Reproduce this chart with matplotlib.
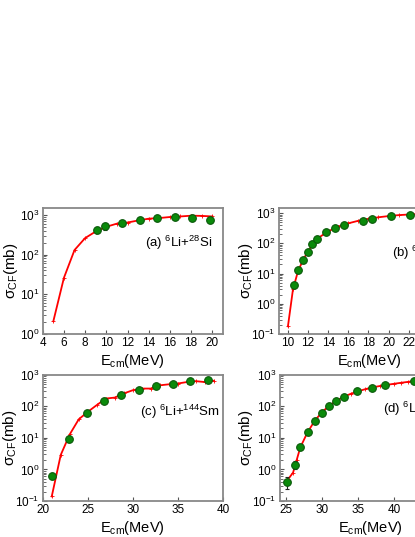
import numpy as np
import matplotlib.pyplot as plt

plt.rcParams['font.family'] = ['Liberation Sans', 'DejaVu Sans']
plt.rcParams['mathtext.fontset'] = 'custom'
plt.rcParams['mathtext.rm'] = 'Liberation Sans'
plt.rcParams['mathtext.it'] = 'Liberation Sans:italic'
plt.rcParams['mathtext.bf'] = 'Liberation Sans:bold'

# (a) 6Li+28Si
a_curve_e = [5, 6, 7, 8, 9, 10, 11, 12, 13, 14, 15, 16, 17, 18, 19, 20]
a_curve_s = [2.1, 26, 130, 260, 380, 500, 600, 640, 720, 800, 830, 880, 910, 950, 940, 910]
a_exp_e = [9.1, 9.9, 11.5, 13.2, 14.8, 16.5, 18.1, 19.8]
a_exp_s = [420, 520, 640, 740, 830, 870, 830, 760]
a_exp_err = [80, 110, 120, 130, 130, 140, 150, 130]

# (b) 6Li+59Co
b_curve_e = [10, 10.5, 11, 11.5, 12, 12.5, 13, 14, 15, 16, 17, 18, 19, 20, 21, 22, 23, 24]
b_curve_s = [0.18, 3.0, 12, 28, 55, 95, 150, 250, 360, 460, 560, 650, 730, 800, 860, 900, 940, 960]
b_exp_e = [10.6, 11.0, 11.5, 12.0, 12.4, 12.9, 13.8, 14.7, 15.6, 17.5, 18.4, 20.2, 22.1]
b_exp_s = [4.3, 13, 28, 53, 93, 136, 238, 334, 407, 541, 631, 776, 878]
b_exp_err = [0.6, 2.5, 5, 8, 12, 18, 30, 40, 45, 60, 65, 80, 90]

# (c) 6Li+144Sm
c_curve_e = [21, 22, 23, 24, 25, 26, 27, 28, 29, 30, 31, 32, 33, 34, 35, 36, 37, 38, 39]
c_curve_s = [0.14, 2.9, 13, 39, 67, 110, 177, 190, 257, 325, 367, 367, 465, 500, 530, 590, 630, 590, 650]
c_exp_e = [21.0, 22.9, 24.9, 26.8, 28.7, 30.7, 32.6, 34.5, 36.4, 38.4]
c_exp_s = [0.62, 9.2, 60, 146, 237, 341, 434, 501, 623, 686]
c_exp_err = [0.1, 1.5, 8, 18, 25, 35, 40, 45, 55, 60]

# (d) 6Li+209Bi
d_curve_e = [25.1, 26, 26.5, 27, 28, 29, 30, 31, 32, 33, 34, 35, 36, 37, 38, 39, 40, 41, 42, 43, 44]
d_curve_s = [0.42, 0.8, 2.0, 5.0, 15, 35, 65, 105, 150, 200, 250, 300, 350, 400, 440, 480, 520, 560, 600, 640, 680]
d_exp_e = [25.1, 26.2, 27.0, 28.0, 29.0, 30.0, 31.0, 31.9, 33.0, 34.9, 36.9, 38.8, 42.8]
d_exp_s = [0.41, 1.4, 5.0, 15, 34, 62, 104, 149, 198, 300, 394, 490, 624]
d_exp_err = [0.17, 0.4, 0.8, 2, 4, 6, 10, 14, 18, 25, 30, 40, 50]

panels = [
    dict(pos=[0.103, 0.378, 0.434, 0.235], ce=a_curve_e, cs=a_curve_s, ee=a_exp_e, es=a_exp_s, err=a_exp_err,
         xlim=(4, 21), ylim=(1, 1500), xt=np.arange(4, 21, 2), label=r'(a) $^{6}$Li+$^{28}$Si',
         tp=(0.57, 0.72), ylx=-0.125),
    dict(pos=[0.672, 0.378, 0.434, 0.235], ce=b_curve_e, cs=b_curve_s, ee=b_exp_e, es=b_exp_s, err=b_exp_err,
         xlim=(9.1, 27), ylim=(0.1, 1500), xt=np.arange(10, 27, 2), label=r'(b) $^{6}$Li+$^{59}$Co',
         tp=(0.63, 0.64), ylx=-0.135),
    dict(pos=[0.103, 0.067, 0.434, 0.235], ce=c_curve_e, cs=c_curve_s, ee=c_exp_e, es=c_exp_s, err=c_exp_err,
         xlim=(20, 40), ylim=(0.1, 1000), xt=np.arange(20, 41, 5), label=r'(c) $^{6}$Li+$^{144}$Sm',
         tp=(0.54, 0.71), ylx=-0.132),
    dict(pos=[0.675, 0.067, 0.434, 0.235], ce=d_curve_e, cs=d_curve_s, ee=d_exp_e, es=d_exp_s, err=d_exp_err,
         xlim=(24.2, 49.2), ylim=(0.1, 1000), xt=np.arange(25, 50, 5), label=r'(d) $^{6}$Li+$^{209}$Bi',
         tp=(0.57, 0.73), ylx=-0.139),
]

fig = plt.figure(figsize=(4.15, 5.37), dpi=100)

for p in panels:
    ax = fig.add_axes(p['pos'])
    ax.plot(p['ce'], p['cs'], color='red', lw=1.3, marker='+', ms=3, mew=0.6, zorder=2)
    ax.errorbar(p['ee'], p['es'], yerr=p['err'], fmt='o', color='#0a8a0a', mec='#0a5a0a', mew=0.8,
                ms=5.5, ecolor='#222222', elinewidth=0.8, capsize=1.5, zorder=3)
    ax.set_yscale('log')
    ax.set_xlim(*p['xlim'])
    ax.set_ylim(*p['ylim'])
    ax.set_xticks(p['xt'])
    ax.tick_params(direction='in', labelsize=8.5, length=3, width=0.8, pad=2.5, color='#555555')
    ax.tick_params(which='minor', direction='in', length=1.8, width=0.6, color='#555555')
    for s in ax.spines.values():
        s.set_color('#888888')
        s.set_linewidth(1.3)
    ax.set_xlabel(r'E$_{\rm cm}$(MeV)', fontsize=10.5, labelpad=2)
    ax.set_ylabel(r'σ$_{\rm CF}$(mb)', fontsize=11)
    ax.yaxis.set_label_coords(p['ylx'], 0.5)
    ax.text(p['tp'][0], p['tp'][1], p['label'], transform=ax.transAxes, fontsize=9.5, va='center')

fig.savefig('out.png', dpi=100)
